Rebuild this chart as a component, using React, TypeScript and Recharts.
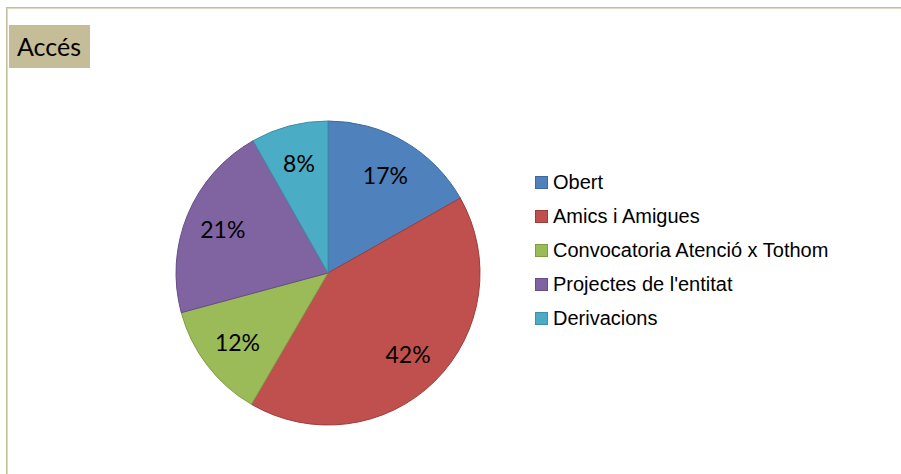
import { PieChart, Pie, Cell, Legend } from 'recharts';

const categories = ['Obert', 'Amics i Amigues', 'Convocatoria Atenció x Tothom', "Projectes de l'entitat", 'Derivacions'];
const shares = [16.8, 41.6, 12.4, 21.0, 8.2];
const fills = ['#4F81BD', '#C0504D', '#9BBB59', '#8064A2', '#4BACC6'];
const strokes = ['#3D6A9E', '#9E3C39', '#7E9C45', '#664E85', '#3A91A8'];

const data = categories.map((name, i) => ({ name, value: shares[i] }));

const RAD = Math.PI / 180;

function renderLabel(props: any) {
  const { cx, cy, midAngle, outerRadius, percent } = props;
  const r = outerRadius * 0.75;
  const x = cx + r * Math.cos(-midAngle * RAD);
  const y = cy + r * Math.sin(-midAngle * RAD);
  return (
    <text
      x={x}
      y={y}
      textAnchor="middle"
      dominantBaseline="central"
      fill="#000"
      style={{ fontFamily: 'Lato, sans-serif', fontSize: 23 }}
    >
      {`${Math.round(percent * 100)}%`}
    </text>
  );
}

function LegendBox() {
  return (
    <div style={{ fontFamily: '"Liberation Sans", Arial, sans-serif', fontSize: 20, color: '#000' }}>
      {categories.map((c, i) => (
        <div key={c} style={{ height: 34, display: 'flex', alignItems: 'center' }}>
          <span
            style={{
              width: 11,
              height: 11,
              background: fills[i],
              border: `1px solid ${strokes[i]}`,
              marginRight: 5,
              display: 'inline-block',
            }}
          />
          <span style={{ whiteSpace: 'nowrap' }}>{c}</span>
        </div>
      ))}
    </div>
  );
}

export default function App() {
  return (
    <div style={{ position: 'absolute', left: 0, top: 0, width: 901, height: 474, background: '#fff', overflow: 'hidden' }}>
      <div style={{ position: 'absolute', left: 6, top: 7, right: 0, height: 1, background: '#C4BD97' }} />
      <div style={{ position: 'absolute', left: 7, top: 8, right: 0, height: 1, background: '#DDD9C3' }} />
      <div style={{ position: 'absolute', left: 6, top: 7, bottom: 0, width: 1, background: '#C4BD97' }} />
      <div style={{ position: 'absolute', left: 7, top: 8, bottom: 0, width: 1, background: '#DDD9C3' }} />
      <div
        style={{
          position: 'absolute',
          left: 9,
          top: 25,
          width: 81,
          height: 43,
          background: '#C4BD97',
          fontFamily: 'Lato, sans-serif',
          fontSize: 25,
          lineHeight: '43px',
          paddingLeft: 8,
          boxSizing: 'border-box',
          color: '#000',
        }}
      >
        Accés
      </div>
      <PieChart
        width={901}
        height={474}
        margin={{ top: 0, right: 0, bottom: 0, left: 0 }}
        style={{ position: 'absolute', left: 0, top: 0 }}
      >
        <Pie
          data={data}
          dataKey="value"
          nameKey="name"
          cx={328}
          cy={273}
          outerRadius={152}
          startAngle={90}
          endAngle={-270}
          label={renderLabel}
          labelLine={false}
          isAnimationActive={false}
        >
          {data.map((d, i) => (
            <Cell key={d.name} fill={fills[i]} stroke={strokes[i]} strokeWidth={1} />
          ))}
        </Pie>
        <Legend
          layout="vertical"
          content={() => <LegendBox />}
          wrapperStyle={{ left: 535, top: 165, width: 340 }}
        />
      </PieChart>
    </div>
  );
}
